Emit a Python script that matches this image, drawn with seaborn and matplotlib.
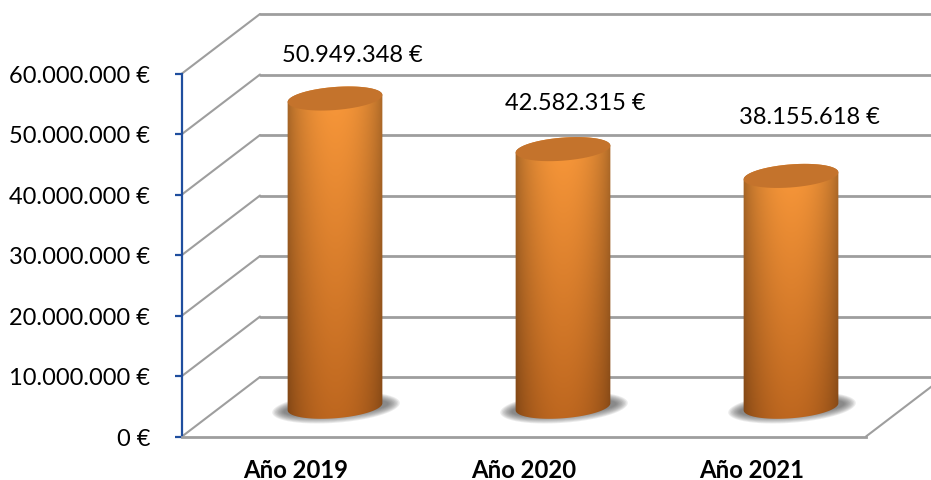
import matplotlib
matplotlib.use("Agg")
import matplotlib.pyplot as plt
import numpy as np
import seaborn as sns
from matplotlib.patches import PathPatch
from matplotlib.path import Path
from matplotlib.ticker import FuncFormatter

years = ["Año 2019", "Año 2020", "Año 2021"]
totals = [50949348, 42582315, 38155618]
y_ticks = [0, 10000000, 20000000, 30000000, 40000000, 50000000, 60000000]

W, H = 931, 481
X0, CAT_W = 296, 228  # pixel of first category, pixels per category
Y0, PX_PER_EUR = 437.5, 363 / 60000000
GRID = "#9e9e9e"
BLUE = "#1f4e9e"

sns.set_theme(style="white")
plt.rcParams["font.family"] = ["Lato", "DejaVu Sans"]

fig = plt.figure(figsize=(W / 100, H / 100), dpi=100)
ax = fig.add_axes([0, 0, 1, 1])
ax.patch.set_alpha(0)

sns.barplot(x=years, y=totals, width=95 / CAT_W, color="#c87a30", ax=ax, zorder=3)
ax.set_xlim((0 - X0) / CAT_W, (W - X0) / CAT_W)
ax.set_ylim(-(H - Y0) / PX_PER_EUR, Y0 / PX_PER_EUR)
ax.set_xlabel("")
ax.set_ylabel("")

dx_full = 78 / CAT_W  # depth of the 3d box
dy_full = 59.5 / PX_PER_EUR
x_front = (182 - X0) / CAT_W
x_right = (866 - X0) / CAT_W

# back wall + depth lines
for t in y_ticks:
    ax.plot([x_front, x_front + dx_full], [t, t + dy_full], color=GRID, lw=1.5, zorder=1)
    ax.plot([x_front + dx_full, x_right + dx_full], [t + dy_full] * 2, color=GRID, lw=2, zorder=1)
ax.plot([x_right, x_right + dx_full], [0, dy_full], color=GRID, lw=1.5, zorder=1)

# axes
for s in ["top", "right"]:
    ax.spines[s].set_visible(False)
ax.spines["left"].set_position(("data", x_front))
ax.spines["left"].set_bounds(0, 60000000)
ax.spines["left"].set_color(BLUE)
ax.spines["left"].set_linewidth(1.6)
ax.spines["bottom"].set_position(("data", 0))
ax.spines["bottom"].set_bounds(x_front, x_right)
ax.spines["bottom"].set_color(GRID)
ax.spines["bottom"].set_linewidth(2)
ax.set_yticks(y_ticks)
ax.yaxis.set_major_formatter(FuncFormatter(lambda v, p: f"{int(v):,}".replace(",", ".") + " €"))
ax.tick_params(axis="y", left=True, length=5, width=1.6, color=BLUE, pad=18, labelsize=17,
               labelcolor="black")
ax.tick_params(axis="x", bottom=False, length=0, pad=15.5, labelsize=17.2, labelcolor="black")
for lab in ax.get_xticklabels():
    lab.set_fontweight("bold")


def ellipse(cx, cy, a, b, t0, t1, rot=np.deg2rad(4.5), n=60):
    # ellipse in pixel units, tilted up to the right, returned in data coords
    t = np.linspace(t0, t1, n)
    px = a * np.cos(t)
    py = b * np.sin(t)
    xp = px * np.cos(rot) - py * np.sin(rot)
    yp = px * np.sin(rot) + py * np.cos(rot)
    return cx + xp / CAT_W, cy + yp / PX_PER_EUR


def cylinder_img():
    u = np.linspace(-1, 1, 120)
    v = np.linspace(0, 1, 200)[:, None, None]
    shade = (0.6 + 0.4 * np.cos(u * np.pi / 2 * 0.98) ** 0.55)[None, :, None]
    base = np.array([0.98, 0.6, 0.23])
    low = np.array([0.74, 0.40, 0.12])
    return np.clip((base * (1 - v) + low * v) * shade, 0, 1)


for bar, total in zip(list(ax.patches), totals):
    bar.set_visible(False)
    half = bar.get_width() / 2
    cx = bar.get_x() + half + dx_full / 2
    base = dy_full / 2
    top = base + total
    a = half * CAT_W
    b = 11.5

    # soft floor shadow
    for k in range(9):
        xs, ys = ellipse(cx + 1 / CAT_W, base - 1 / PX_PER_EUR, 64 - k * 1.4, 15 - k * 0.9, 0, 2 * np.pi)
        ax.fill(xs, ys, color="#4f4f4f", alpha=0.11, lw=0, zorder=2)

    # body
    xb, yb = ellipse(cx, base, a, b, np.pi, 2 * np.pi)
    xt, yt = ellipse(cx, top, a, b, 0, np.pi)
    verts = np.column_stack([np.r_[xb, xt], np.r_[yb, yt]])
    clip = PathPatch(Path(np.vstack([verts, verts[0]]), closed=True), transform=ax.transData,
                     fc="none", ec="none")
    ax.add_patch(clip)
    img = ax.imshow(cylinder_img(), origin="upper", aspect="auto", zorder=3,
                    extent=(cx - half * 1.02, cx + half * 1.02, base - 16 / PX_PER_EUR, top + 16 / PX_PER_EUR))
    img.set_clip_path(clip)

    # lid
    xl, yl = ellipse(cx, top, a, b, 0, 2 * np.pi)
    ax.fill(xl, yl, color="#c4732c", lw=0, zorder=4)

ax.set_xlim((0 - X0) / CAT_W, (W - X0) / CAT_W)
ax.set_ylim(-(H - Y0) / PX_PER_EUR, Y0 / PX_PER_EUR)

# value labels, placed by hand in the original
label_offsets = [(17, 44), (12, 47), (18, 59)]
for i, total in enumerate(totals):
    ax.annotate(f"{total:,}".replace(",", ".") + " €", xy=(i + dx_full / 2, total + dy_full / 2),
                xytext=label_offsets[i], textcoords="offset pixels", ha="center", va="center",
                fontsize=17, color="black", zorder=5)

fig.savefig("out.png", dpi=100)
